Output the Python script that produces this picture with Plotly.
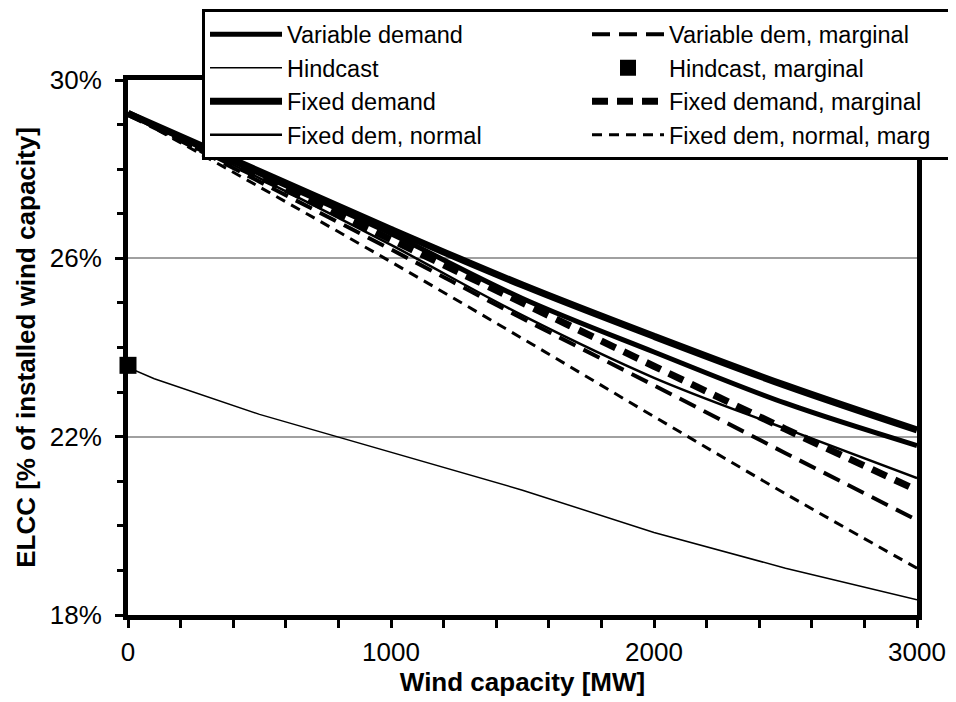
import plotly.graph_objects as go

# ---------------- data ----------------
wind_mw = [0, 500, 1000, 1500, 2000, 2500, 3000]
hindcast_mw = [0, 100, 500, 1000, 1500, 2000, 2500, 3000]

variable_demand = [29.25, 27.9, 26.55, 25.1, 23.9, 22.75, 21.8]
hindcast = [23.55, 23.3, 22.5, 21.65, 20.8, 19.85, 19.05, 18.34]
fixed_demand = [29.25, 27.95, 26.65, 25.4, 24.25, 23.15, 22.15]
fixed_dem_normal = [29.25, 27.8, 26.3, 24.72, 23.32, 22.18, 21.07]

variable_dem_marginal = [29.25, 27.72, 26.2, 24.65, 23.15, 21.63, 20.13]
hindcast_marginal_mw = [0]
hindcast_marginal = [23.6]
fixed_demand_marginal = [29.25, 27.83, 26.42, 25.0, 23.58, 22.17, 20.8]
fixed_dem_normal_marg = [29.25, 27.6, 25.92, 24.2, 22.45, 20.72, 19.05]

x_ticks = [0, 1000, 2000, 3000]
x_tick_labels = ["0", "1000", "2000", "3000"]
y_ticks = [18, 22, 26, 30]
y_tick_labels = ["18%", "22%", "26%", "30%"]

# ---------------- figure ----------------
fig = go.Figure()

COL2_W = 277  # legend text width for right-hand column entries

def line(x, y, name, width, dash="solid", shape="spline", legendwidth=None):
    fig.add_trace(go.Scatter(
        x=x, y=y, name=name, mode="lines", legendwidth=legendwidth,
        line=dict(color="black", width=width, dash=dash, shape=shape),
    ))

# legend order is row-wise (2 columns)
line(wind_mw, variable_demand, "Variable demand", 5)
line(wind_mw, variable_dem_marginal, "Variable dem, marginal", 4, "18px,9px", legendwidth=COL2_W)
line(hindcast_mw, hindcast, "Hindcast", 1.5, shape="linear")
fig.add_trace(go.Scatter(
    x=hindcast_marginal_mw, y=hindcast_marginal, name="Hindcast, marginal",
    mode="markers", cliponaxis=False, legendwidth=COL2_W,
    marker=dict(symbol="square", size=17, color="black"),
))
line(wind_mw, fixed_demand, "Fixed demand", 7)
line(wind_mw, fixed_demand_marginal, "Fixed demand, marginal", 7, "16px,9px", legendwidth=COL2_W)
line(wind_mw, fixed_dem_normal, "Fixed dem, normal", 2.5)
line(wind_mw, fixed_dem_normal_marg, "Fixed dem, normal, marg", 3, "10px,7px", legendwidth=COL2_W)

# page body adds an 8px offset, so the figure is 8px smaller than the window
fig.update_layout(
    width=948, height=694,
    margin=dict(l=120, r=39, t=72, b=87, autoexpand=False),
    plot_bgcolor="white", paper_bgcolor="white",
    font=dict(family="Arial, Liberation Sans, sans-serif", size=26, color="black"),
    legend=dict(
        orientation="h", x=1.0469, xanchor="right", y=1.132, yanchor="top",
        bgcolor="white", bordercolor="black", borderwidth=3,
        font=dict(size=23.5), entrywidth=295, entrywidthmode="pixels",
        itemwidth=72, traceorder="normal",
    ),
)

fig.update_xaxes(
    range=[0, 3000], tickvals=x_ticks, ticktext=x_tick_labels,
    ticks="outside", ticklen=8, tickwidth=3, tickcolor="black",
    ticklabelstandoff=2, automargin=False,
    minor=dict(dtick=200, ticks="outside", ticklen=8, tickwidth=3, tickcolor="black"),
    showline=True, linewidth=5, linecolor="black", mirror=True,
    showgrid=False, zeroline=False,
    title=dict(text="<b>Wind capacity [MW]</b>", font=dict(size=26), standoff=0),
)
fig.update_yaxes(
    range=[18, 30], tickvals=y_ticks, ticktext=y_tick_labels,
    ticks="outside", ticklen=8, tickwidth=3, tickcolor="black",
    ticklabelstandoff=8, automargin=False,
    minor=dict(dtick=1, ticks="outside", ticklen=6, tickwidth=3, tickcolor="black"),
    showline=True, linewidth=5, linecolor="black", mirror=True,
    showgrid=True, gridcolor="#a0a0a0", gridwidth=1.5, zeroline=False,
    title=dict(text="<b>ELCC [% of installed wind capacity]</b>", font=dict(size=26), standoff=8),
)

fig.write_html("out.html")
